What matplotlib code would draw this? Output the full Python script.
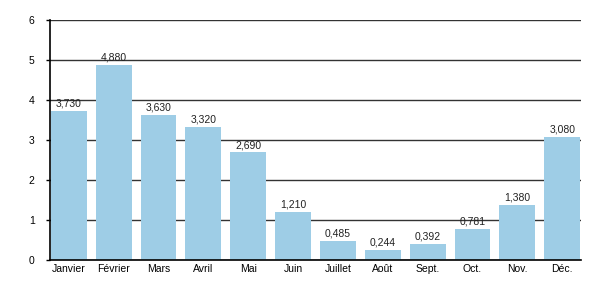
import matplotlib
matplotlib.use('Agg')
import matplotlib.pyplot as plt

months = ['Janvier', 'Février', 'Mars', 'Avril', 'Mai', 'Juin',
          'Juillet', 'Août', 'Sept.', 'Oct.', 'Nov.', 'Déc.']
values = [3.730, 4.880, 3.630, 3.320, 2.690, 1.210,
          0.485, 0.244, 0.392, 0.781, 1.380, 3.080]
yticks = [0, 1, 2, 3, 4, 5, 6]

plt.rcParams['font.family'] = ['Liberation Sans', 'DejaVu Sans']

fig = plt.figure(figsize=(6, 3), dpi=100)
ax = fig.add_axes([50 / 600, 40 / 300, 531 / 600, 240 / 300])

x = list(range(len(months)))
ax.set_axisbelow(True)
ax.yaxis.grid(True, color='#333333', linewidth=1)
bars = ax.bar(x, values, width=0.8, color='#9ecde6')

for xi, v in zip(x, values):
    ax.text(xi, v + 0.06, f'{v:.3f}'.replace('.', ','), ha='center', va='bottom',
            fontsize=7.5, color='#222222')

ax.set_xlim(-0.42, 11.42)
ax.set_ylim(0, 6)
ax.set_yticks(yticks)
ax.set_xticks(x)
ax.set_xticklabels(months)
ax.tick_params(axis='x', length=0, labelsize=7.5, pad=3)
ax.tick_params(axis='y', length=3, width=1, labelsize=7.5, pad=8)
for s in ['top', 'right']:
    ax.spines[s].set_visible(False)
ax.spines['left'].set_linewidth(1.2)
ax.spines['bottom'].set_linewidth(1.2)

fig.savefig('out.png', dpi=100)
